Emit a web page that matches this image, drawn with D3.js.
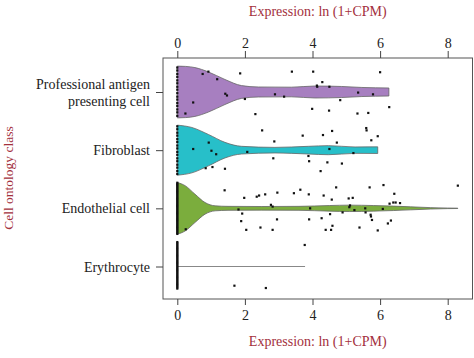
<!DOCTYPE html>
<html>
<head>
<meta charset="utf-8">
<script src="https://cdn.jsdelivr.net/npm/d3@7"></script>
<style>
  html, body { margin: 0; padding: 0; background: #fff; }
  svg { display: block; }
  svg text { font-family: "Liberation Serif", "DejaVu Serif", serif !important; }
</style>
</head>
<body>
<svg id="chart" width="474" height="358"></svg>
<script>
// ---------- data ----------
const categories = ["Professional antigen presenting cell", "Fibroblast", "Endothelial cell", "Erythrocyte"];
const categoryLabels = [["Professional antigen", "presenting cell"], ["Fibroblast"], ["Endothelial cell"], ["Erythrocyte"]];
const xTicks = [0, 2, 4, 6, 8];
const axisTitle = "Expression: ln (1+CPM)";
const yTitle = "Cell ontology class";
const colors = ["#a77fc0", "#27bfc9", "#7bad3d", "#888888"];

// violin half-width profiles: [expression, half-width as fraction of category step]
const violinProf = [[0,0.445],[0.25,0.44],[0.52,0.42],[0.92,0.345],[1.41,0.215],[1.9,0.11],[2.4,0.086],[3.38,0.083],[4.07,0.103],[4.86,0.095],[5.46,0.078],[6.26,0.069]];
const violinFib  = [[0,0.43],[0.43,0.39],[0.92,0.27],[1.41,0.134],[1.9,0.066],[2.89,0.048],[3.88,0.066],[4.47,0.078],[5.26,0.055],[5.93,0.057]];
const violinEnd  = [[0,0.445],[0.23,0.39],[0.52,0.245],[0.82,0.10],[1.12,0.043],[1.5,0.034],[2.5,0.031],[3.6,0.034],[4.5,0.048],[5.1,0.055],[5.8,0.048],[6.4,0.038],[6.9,0.026],[7.5,0.012],[8.0,0.005],[8.3,0.003]];
const violinEry  = [[0,0],[3.78,0]];

// non-zero cells: [expression, jitter (fraction of category step)]
const pointsProf = [[0.92,-0.35],[0.75,-0.31],[1.18,-0.22],[1.86,-0.32],[3.39,-0.35],[4.02,-0.35],[6.0,-0.34],[4.29,-0.17],[4.13,-0.11],[4.14,-0.09],[4.50,-0.09],[1.42,0.03],[1.47,0.06],[0.47,0.18],[2.0,0.12],[2.89,0.04],[3.16,0.08],[4.82,0.14],[5.35,0.01],[5.79,0.04],[6.27,0.26],[0.24,0.37],[2.31,0.38],[3.99,0.29],[4.49,0.32],[5.33,0.37],[5.65,0.36]];
const pointsFib = [[2.51,-0.34],[5.59,-0.38],[5.60,-0.34],[3.71,-0.25],[4.31,-0.26],[4.58,-0.33],[5.93,-0.24],[5.74,-0.17],[2.87,-0.15],[4.72,-0.13],[0.93,-0.13],[0.47,-0.02],[1.01,0.01],[1.15,0.07],[2.07,0.03],[4.50,-0.02],[5.21,0.05],[3.88,0.10],[2.84,0.14],[3.90,0.19],[4.44,0.21],[4.87,0.23],[0.84,0.31],[1.04,0.29],[1.41,0.32],[4.24,0.36]];
const pointsEnd = [[1.40,-0.31],[1.98,-0.18],[2.35,-0.20],[2.42,-0.22],[2.60,-0.24],[2.96,-0.27],[3.45,-0.26],[3.64,-0.32],[3.89,-0.24],[4.33,-0.22],[4.70,-0.36],[4.57,-0.15],[5.07,-0.17],[5.19,-0.18],[5.69,-0.36],[6.10,-0.40],[6.42,-0.25],[6.28,-0.08],[6.39,-0.10],[6.46,-0.10],[6.59,-0.09],[8.30,-0.39],[2.77,-0.06],[2.82,-0.03],[1.81,0.02],[3.93,0.0],[5.09,-0.02],[5.11,-0.05],[5.24,0.03],[5.56,0.0],[6.08,0.01],[1.92,0.09],[4.52,0.10],[4.89,0.07],[5.57,0.07],[5.72,0.11],[5.73,0.14],[1.89,0.22],[2.95,0.19],[3.90,0.19],[4.27,0.17],[5.76,0.20],[6.32,0.21],[6.23,0.26],[2.04,0.37],[2.46,0.33],[2.82,0.37],[4.39,0.37],[4.55,0.37],[4.59,0.30],[5.39,0.33],[5.93,0.38],[0.25,0.36]];
const pointsEry = [[3.77,-0.37],[1.69,0.33],[2.62,0.37]];

// zero-expression cells: jitter only
const zerosProf = [-0.42,-0.37,-0.31,-0.26,-0.2,-0.15,-0.09,-0.04,0.02,0.08,0.13,0.19,0.24,0.3,0.35,0.41];
const zerosFib = [-0.41,-0.36,-0.3,-0.25,-0.19,-0.14,-0.08,-0.03,0.03,0.08,0.14,0.19,0.25,0.3,0.36,0.41];
const zerosEnd = [-0.44,-0.42,-0.40,-0.38,-0.36,-0.34,-0.32,-0.30,-0.28,-0.26,-0.24,-0.22,-0.20,-0.18,-0.16,-0.14,-0.12,-0.10,-0.08,-0.06,-0.04,-0.02,0.0,0.02,0.04,0.06,0.08,0.10,0.12,0.14,0.16,0.18,0.20,0.22,0.24,0.26,0.28,0.30,0.32,0.34,0.36,0.38,0.40,0.42,0.44];
const zerosEry = [-0.42,-0.40,-0.38,-0.36,-0.34,-0.32,-0.30,-0.28,-0.26,-0.24,-0.22,-0.20,-0.18,-0.16,-0.14,-0.12,-0.10,-0.08,-0.06,-0.04,-0.02,0.0,0.02,0.04,0.06,0.08,0.10,0.12,0.14,0.16,0.18,0.20,0.22,0.24,0.26,0.28,0.30,0.32,0.34,0.36,0.38];

const violins = [violinProf, violinFib, violinEnd, violinEry];
const points = [pointsProf, pointsFib, pointsEnd, pointsEry];
const zeros = [zerosProf, zerosFib, zerosEnd, zerosEry];

// ---------- layout ----------
const FONT = '"Liberation Serif", "DejaVu Serif", serif';
const box = { left: 163, right: 472.5, top: 58, bottom: 299 };
const svg = d3.select("#chart");

const x = d3.scaleLinear().domain([0, 8]).range([177.3, 447.7]);
const y = d3.scalePoint().domain(categories).range([92, 266.5]);
const step = y.step();

// box
svg.append("rect")
  .attr("x", box.left).attr("y", box.top)
  .attr("width", box.right - box.left).attr("height", box.bottom - box.top)
  .attr("fill", "none").attr("stroke", "#555").attr("stroke-width", 1);

// axes
function styleAxis(g) {
  g.attr("font-family", FONT).attr("font-size", 14);
  g.select(".domain").remove();
  g.selectAll(".tick line").attr("stroke", "#444");
  g.selectAll(".tick text").attr("fill", "#222");
}
svg.append("g").attr("transform", `translate(0,${box.top})`)
  .call(d3.axisTop(x).tickValues(xTicks).tickSize(7).tickPadding(3).tickFormat(d3.format("d")))
  .call(styleAxis);
svg.append("g").attr("transform", `translate(0,${box.bottom})`)
  .call(d3.axisBottom(x).tickValues(xTicks).tickSize(6).tickPadding(5).tickFormat(d3.format("d")))
  .call(styleAxis);

const yAxis = svg.append("g").attr("transform", `translate(${box.left},0)`)
  .call(d3.axisLeft(y).tickSize(7).tickPadding(6).tickFormat(""));
yAxis.attr("font-family", FONT).attr("font-size", 14);
yAxis.select(".domain").remove();
yAxis.selectAll(".tick line").attr("stroke", "#444");
yAxis.selectAll(".tick").each(function(d, i) {
  const lines = categoryLabels[i];
  const t = d3.select(this).append("text")
    .attr("x", -13).attr("fill", "#222").attr("text-anchor", "end");
  const lh = 17;
  const y0 = -(lines.length - 1) * lh / 2;
  lines.forEach((ln, k) => {
    t.append("tspan").attr("x", -13).attr("y", y0 + k * lh).attr("dy", "0.33em").text(ln);
  });
});

// titles
const titles = svg.append("g").attr("font-family", FONT).attr("fill", "#a3303c");
titles.append("text").attr("x", (box.left + box.right) / 2).attr("y", 16)
  .attr("text-anchor", "middle").attr("font-size", 14).text(axisTitle);
titles.append("text").attr("x", (box.left + box.right) / 2).attr("y", 346)
  .attr("text-anchor", "middle").attr("font-size", 14).text(axisTitle);
titles.append("text").attr("transform", `translate(13,178) rotate(-90)`)
  .attr("text-anchor", "middle").attr("font-size", 13.5).text(yTitle);

// violins
categories.forEach((c, i) => {
  const cy = y(c);
  const prof = violins[i];
  if (prof.every(p => p[1] === 0)) {
    svg.append("line")
      .attr("x1", x(prof[0][0])).attr("x2", x(prof[prof.length - 1][0]))
      .attr("y1", cy).attr("y2", cy)
      .attr("stroke", "#888").attr("stroke-width", 1);
  } else {
    const area = d3.area()
      .x(d => x(d[0]))
      .y0(d => cy - d[1] * step)
      .y1(d => cy + d[1] * step)
      .curve(d3.curveMonotoneX);
    svg.append("path").datum(prof)
      .attr("d", area)
      .attr("fill", colors[i])
      .attr("stroke", "#666").attr("stroke-width", 0.8);
  }
});

// points
categories.forEach((c, i) => {
  const cy = y(c);
  const pts = points[i].concat(zeros[i].map(j => [0, j]));
  svg.append("g").selectAll("rect").data(pts).join("rect")
    .attr("x", d => x(d[0]) - 1.1)
    .attr("y", d => cy + d[1] * step - 1.1)
    .attr("width", 2.2).attr("height", 2.2)
    .attr("fill", "#111");
});
</script>
</body>
</html>
